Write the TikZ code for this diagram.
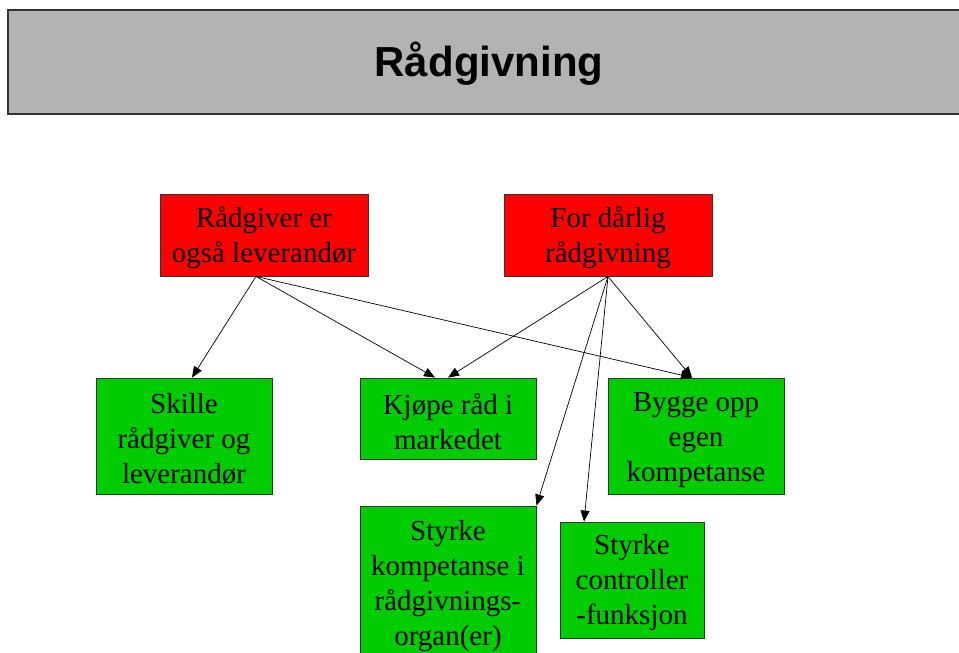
\documentclass[tikz,border=0pt]{standalone}
\usepackage{fontspec}
\setmainfont{Liberation Serif}
\newfontfamily\headfont{Liberation Sans}
\usetikzlibrary{arrows.meta}
\definecolor{hdrgray}{HTML}{B3B3B3}
\definecolor{cause}{HTML}{FF0000}
\definecolor{remedy}{HTML}{00CC00}
\definecolor{edge}{HTML}{333333}
\tikzset{
  box/.style={draw=edge, line width=0.9pt, inner sep=0pt},
  causebox/.style={box, fill=cause},
  remedybox/.style={box, fill=remedy},
  boxtext/.style={inner sep=0pt, align=center, yshift=-3pt,
    font=\fontsize{29}{35}\selectfont},
  link/.style={draw=black, line width=0.7pt, -{Triangle[length=11pt,width=9pt]}}
}
\begin{document}
\begin{tikzpicture}[x=1pt,y=-1pt]
\useasboundingbox (0,0) rectangle (959,653);
% header bar
\fill[hdrgray] (8,10) rectangle (975,114);
\draw[edge, line width=1.6pt] (975,10) -- (8,10) -- (8,114) -- (975,114);
\node[font=\headfont\bfseries\fontsize{42}{48}\selectfont] (title) at (489,64) {Rådgivning};
% causes
\node[causebox, minimum width=208, minimum height=82] (A) at (264,235) {};
\node[boxtext] (At) at (A.center) {Rådgiver er\\også leverandør};
\node[causebox, minimum width=208, minimum height=82] (B) at (608,235) {};
\node[boxtext] (Bt) at (B.center) {For dårlig\\rådgivning};
% remedies
\node[remedybox, minimum width=176, minimum height=116] (C) at (184,436) {};
\node[boxtext] (Ct) at (C.center) {Skille\\rådgiver og\\leverandør};
\node[remedybox, minimum width=176, minimum height=81] (D) at (448,418.5) {};
\node[boxtext] (Dt) at (D.center) {Kjøpe råd i\\markedet};
\node[remedybox, minimum width=176, minimum height=116] (E) at (696,436) {};
\node[boxtext, yshift=-1.5pt] (Et) at (E.center) {Bygge opp\\egen\\kompetanse};
\node[remedybox, minimum width=176, minimum height=154] (F) at (448,583) {};
\node[boxtext] (Ft) at (F.center) {Styrke\\kompetanse i\\rådgivnings-\\organ(er)};
\node[remedybox, minimum width=144, minimum height=116] (G) at (632,580) {};
\node[boxtext] (Gt) at (G.center) {Styrke\\controller\\-funksjon};
% connectors
\draw[link] ([xshift=-8pt]A.south) -- ([xshift=8pt]C.north);
\draw[link] ([xshift=-8pt]A.south) -- ([xshift=-13pt]D.north);
\draw[link] ([xshift=-8pt]A.south) -- ([xshift=-4pt]E.north);
\draw[link] (B.south) -- (D.north);
\draw[link] (B.south) -- ([xshift=-4pt]E.north);
\draw[link] (B.south) -- (F.north east);
\draw[link] (B.south) -- ([xshift=-48pt]G.north);
\end{tikzpicture}
\end{document}
